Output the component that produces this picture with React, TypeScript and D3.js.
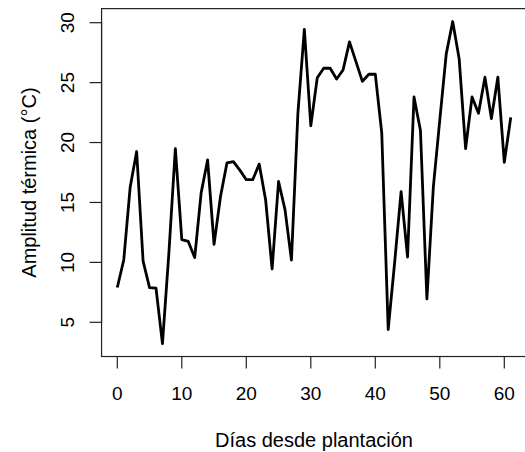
import { useMemo } from "react";
import * as d3 from "d3";

const WIDTH = 525;
const HEIGHT = 452;

// tick positions measured on the reference (R base plot)
const X_PIX = { zero: 117.3, sixty: 504.3 };
const Y_PIX = { five: 322.3, thirty: 22.7 };

const days = d3.range(0, 62);
const amplitude = [
  7.9, 10.2, 16.3, 19.25, 10.1, 7.9, 7.85, 3.22, 10.8, 19.5,
  11.9, 11.75, 10.4, 15.8, 18.55, 11.5, 15.5, 18.3, 18.4, 17.7,
  16.9, 16.9, 18.2, 15.2, 9.45, 16.75, 14.4, 10.2, 22.45, 29.45,
  21.4, 25.4, 26.2, 26.2, 25.3, 26.05, 28.4, 26.75, 25.1, 25.7,
  25.7, 20.8, 4.4, 10.0, 15.9, 10.45, 23.8, 21.0, 6.95, 16.3,
  21.9, 27.4, 30.1, 27.0, 19.5, 23.8, 22.45, 25.45, 22.0, 25.45,
  18.35, 22.1,
];

const xTicks = [0, 10, 20, 30, 40, 50, 60];
const yTicks = [5, 10, 15, 20, 25, 30];
const xLabel = "Días desde plantación";
const yLabel = "Amplitud térmica (°C)";

const FONT = "'Liberation Sans', Arial, sans-serif";
const TICK_LEN = 12;
const TICK_FONT = 19;
const LABEL_FONT = 20;

export default function App() {
  const points = days.map((d, i) => ({ day: d, value: amplitude[i] }));

  // scales anchored on the measured tick positions
  const xScale = d3.scaleLinear().domain([0, 60]).range([X_PIX.zero, X_PIX.sixty]);
  const yScale = d3.scaleLinear().domain([5, 30]).range([Y_PIX.five, Y_PIX.thirty]);

  // R extends the data range by 4% on each side for the plot box
  const [xMin, xMax] = d3.extent(days) as [number, number];
  const [yMin, yMax] = d3.extent(amplitude) as [number, number];
  const xPad = (xMax - xMin) * 0.04;
  const yPad = (yMax - yMin) * 0.04;
  const left = xScale(xMin - xPad);
  const right = xScale(xMax + xPad);
  const top = yScale(yMax + yPad);
  const bottom = yScale(yMin - yPad);

  const linePath = useMemo(
    () =>
      d3
        .line<{ day: number; value: number }>()
        .x((d) => xScale(d.day))
        .y((d) => yScale(d.value))(points),
    [points]
  );

  return (
    <svg
      width={WIDTH}
      height={HEIGHT}
      style={{ position: "absolute", left: 0, top: 0, background: "#fff" }}
      fontFamily={FONT}
    >
      <rect width={WIDTH} height={HEIGHT} fill="#fff" />

      {/* data line */}
      <path
        d={linePath ?? ""}
        fill="none"
        stroke="#000"
        strokeWidth={2.8}
        strokeLinejoin="round"
        strokeLinecap="butt"
      />

      {/* plot box */}
      <rect
        x={left}
        y={top}
        width={right - left}
        height={bottom - top}
        fill="none"
        stroke="#222"
        strokeWidth={1.2}
      />

      {/* x axis */}
      <g>
        <line
          x1={xScale(xTicks[0])}
          x2={xScale(xTicks[xTicks.length - 1])}
          y1={bottom}
          y2={bottom}
          stroke="#222"
          strokeWidth={1.2}
        />
        {xTicks.map((t) => (
          <g key={t}>
            <line
              x1={xScale(t)}
              x2={xScale(t)}
              y1={bottom}
              y2={bottom + TICK_LEN}
              stroke="#222"
              strokeWidth={1.2}
            />
            <text x={xScale(t)} y={400} textAnchor="middle" fontSize={TICK_FONT} fill="#000">
              {t}
            </text>
          </g>
        ))}
        <text x={(left + right) / 2} y={447} textAnchor="middle" fontSize={LABEL_FONT} fill="#000">
          {xLabel}
        </text>
      </g>

      {/* y axis */}
      <g>
        <line
          x1={left}
          x2={left}
          y1={yScale(yTicks[0])}
          y2={yScale(yTicks[yTicks.length - 1])}
          stroke="#222"
          strokeWidth={1.2}
        />
        {yTicks.map((t) => (
          <g key={t}>
            <line
              x1={left - TICK_LEN}
              x2={left}
              y1={yScale(t)}
              y2={yScale(t)}
              stroke="#222"
              strokeWidth={1.2}
            />
            <text
              transform={`translate(74,${yScale(t)}) rotate(-90)`}
              textAnchor="middle"
              fontSize={TICK_FONT}
              fill="#000"
            >
              {t}
            </text>
          </g>
        ))}
        <text
          transform={`translate(36,${(top + bottom) / 2}) rotate(-90)`}
          textAnchor="middle"
          fontSize={LABEL_FONT}
          fill="#000"
        >
          {yLabel}
        </text>
      </g>
    </svg>
  );
}
